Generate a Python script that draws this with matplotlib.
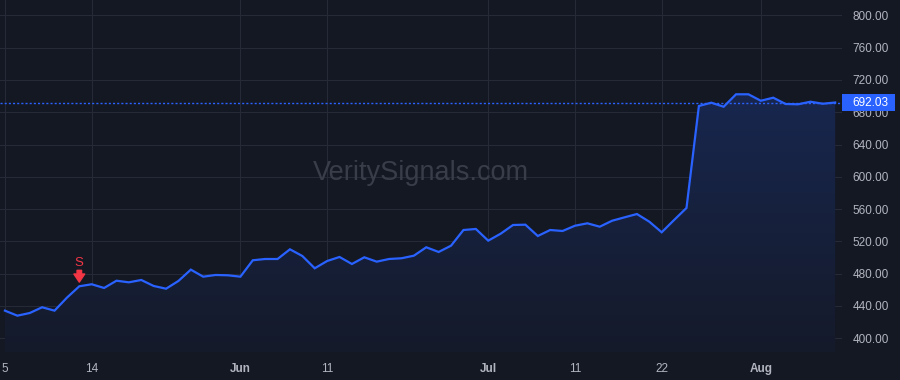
import matplotlib
matplotlib.use("Agg")
import matplotlib.pyplot as plt
import matplotlib.transforms as mtransforms
from matplotlib.patches import Rectangle
import numpy as np
import pandas as pd

# dados do gráfico (preço diário, pregões de 2025)
holidays = ["2025-05-26", "2025-06-19", "2025-07-04"]
dates = pd.bdate_range("2025-05-05", periods=68, freq="C", holidays=holidays)
prices = [
    434.2, 428.0, 431.3, 438.4, 434.2, 450.3, 464.4, 466.9, 462.3, 471.3,
    469.3, 472.2, 464.8, 461.4, 471.0, 485.0, 476.3, 478.4, 478.0, 476.3,
    496.6, 498.2, 498.2, 510.2, 501.9, 486.7, 495.7, 500.7, 492.0, 500.3,
    494.9, 498.2, 499.1, 502.3, 512.7, 506.9, 514.7, 534.1, 535.4, 520.9,
    529.5, 540.3, 540.7, 526.7, 534.1, 532.9, 539.4, 542.4, 538.2, 545.6,
    549.8, 553.9, 544.4, 531.3, 546.5, 561.4, 687.7, 691.8, 686.8, 702.2,
    702.2, 694.2, 698.0, 690.2, 689.8, 693.0, 690.5, 692.03,
]
tick_dates = ["2025-05-05", "2025-05-14", "2025-06-02", "2025-06-11",
              "2025-07-01", "2025-07-11", "2025-07-22", "2025-08-01"]
tick_labels = ["5", "14", "Jun", "11", "Jul", "11", "22", "Aug"]
month_labels = ["Jun", "Jul", "Aug"]
y_ticks = [400, 440, 480, 520, 560, 600, 640, 680, 720, 760, 800]
signal_date = "2025-05-13"
signal_text = "S"
watermark = "VeritySignals.com"

BG = "#141823"
GRID = "#252a36"
TXT = "#b2b5be"
BLUE = "#2962ff"
RED = "#f23645"

plt.rcParams["font.family"] = ["Liberation Sans", "DejaVu Sans"]

fig = plt.figure(figsize=(9, 3.8), dpi=100, facecolor=BG)
ax = fig.add_axes([0, 1 - 352 / 380, 842 / 900, 352 / 380], facecolor=BG)

x = np.arange(len(prices))
y = np.array(prices)

ax.set_xlim(-0.4, 67.55)
ax.set_ylim(383, 819)

# área com gradiente sob a linha
poly = ax.fill_between(x, y, 383, color="none", lw=0)
grad = np.linspace(0.03, 0.2, 256)[:, None]
base = np.array(matplotlib.colors.to_rgb(BG))
blue = np.array(matplotlib.colors.to_rgb(BLUE))
img = base + grad[..., None] * (blue - base)
img = np.repeat(img, 2, axis=1)
im = ax.imshow(img, extent=[x[0], x[-1], 383, y.max()], origin="lower",
               aspect="auto", zorder=1, interpolation="bilinear")
clip = poly.get_paths()[0]
im.set_clip_path(clip, transform=ax.transData)

ax.plot(x, y, color=BLUE, lw=1.6, zorder=3, solid_joinstyle="miter")

# linha do último preço
last = prices[-1]
ax.axhline(last, color=BLUE, lw=1, ls=(0, (1.5, 1.5)), zorder=2)

# grade e eixos
tick_pos = dates.get_indexer(pd.to_datetime(tick_dates))
ax.set_xticks(tick_pos)
ax.set_xticklabels(tick_labels)
for lbl in ax.get_xticklabels():
    if lbl.get_text() in month_labels:
        lbl.set_fontweight("bold")
ax.set_yticks(y_ticks)
ax.set_yticklabels([f"{v:.2f}" for v in y_ticks])
ax.yaxis.tick_right()
ax.tick_params(axis="both", length=0, colors=TXT, labelsize=8.5)
ax.tick_params(axis="x", pad=8)
ax.tick_params(axis="y", pad=7.5)
ax.grid(True, color=GRID, lw=0.8)
ax.set_axisbelow(True)
for s in ax.spines.values():
    s.set_visible(False)

# sinal de venda
si = dates.get_loc(pd.Timestamp(signal_date))
ax.annotate("", xy=(si, prices[si]), xytext=(0, 11.5), textcoords="offset points",
            arrowprops=dict(arrowstyle="simple,head_length=0.45,head_width=0.6,tail_width=0.25",
                            color=RED, shrinkA=0, shrinkB=3, mutation_scale=13), zorder=5)
ax.annotate(signal_text, xy=(si, prices[si]), xytext=(0, 17), textcoords="offset points",
            ha="center", va="center", color=RED, fontsize=9.5, zorder=5)

# marca d'água
ax.text(0.5, 0.508, watermark, transform=ax.transAxes, ha="center", va="center",
        fontsize=19.5, color="#393d49", zorder=0.8)

# etiqueta do último preço
trans = mtransforms.blended_transform_factory(ax.transAxes, ax.transData)
h = 8.5 / 0.8075
ax.add_patch(Rectangle((1.0, last - h), 53 / 842, 2 * h, transform=trans,
                       facecolor=BLUE, edgecolor="none", clip_on=False, zorder=10))
ax.text(1.0 + 10 / 842, last, f"{last:.2f}", transform=trans, ha="left", va="center",
        color="white", fontsize=8.5, zorder=11, clip_on=False)

fig.savefig("out.png", dpi=100, facecolor=BG)
